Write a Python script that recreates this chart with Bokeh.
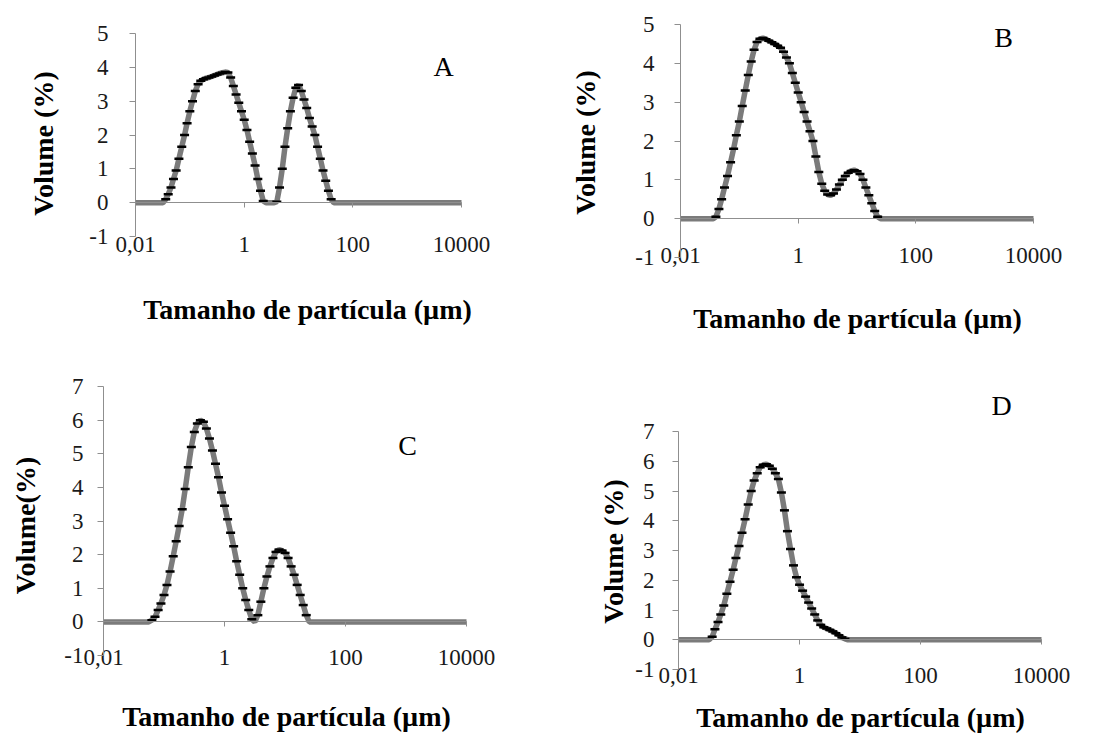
import math
from bokeh.plotting import figure
from bokeh.layouts import column, row
from bokeh.models import Range1d, FixedTicker, Label
from bokeh.embed import file_html
from bokeh.resources import INLINE

# Particle size classes (um)
SIZES = [0.01,
         0.020, 0.022, 0.025, 0.028, 0.032, 0.036, 0.040, 0.045, 0.050, 0.056,
         0.063, 0.071, 0.080, 0.089, 0.100, 0.112, 0.126, 0.142, 0.159, 0.178,
         0.200, 0.224, 0.252, 0.283, 0.317, 0.356, 0.399, 0.448, 0.502, 0.564,
         0.632, 0.710, 0.796, 0.893, 1.002, 1.125, 1.262, 1.416, 1.589, 1.783,
         2.000, 2.244, 2.518, 2.825, 3.170, 3.557, 3.991, 4.477, 5.024, 5.637,
         6.325, 7.096, 7.962, 8.934, 10.024, 11.247, 12.619, 14.159, 15.887, 17.825,
         20.000, 22.440, 25.179, 28.251, 31.698, 35.566, 39.905, 44.774, 50.238, 56.368,
         63.246, 70.963, 79.621, 89.337, 100.237,
         10000]

VOL_A = [0,
         0, 0, 0, 0, 0, 0.1, 0.25, 0.45, 0.7, 0.95,
         1.3, 1.65, 2.0, 2.35, 2.7, 3.0, 3.3, 3.5, 3.6, 3.65,
         3.68, 3.7, 3.73, 3.76, 3.79, 3.82, 3.84, 3.86, 3.85, 3.7,
         3.45, 3.2, 2.95, 2.7, 2.45, 2.15, 1.8, 1.45, 1.1, 0.7,
         0.35, 0.05, 0, 0, 0, 0, 0.03, 0.45, 1.0, 1.65,
         2.2, 2.7, 3.1, 3.4, 3.48, 3.3, 3.05, 2.8, 2.5, 2.25,
         2.0, 1.65, 1.3, 0.95, 0.65, 0.35, 0.1, 0, 0, 0,
         0, 0, 0, 0, 0,
         0]

VOL_B = [0,
         0, 0, 0, 0, 0, 0, 0.05, 0.25, 0.5, 0.8,
         1.1, 1.45, 1.8, 2.15, 2.5, 2.9, 3.3, 3.7, 4.05, 4.35,
         4.55, 4.63, 4.65, 4.62, 4.58, 4.54, 4.5, 4.45, 4.4, 4.3,
         4.15, 4.0, 3.75, 3.5, 3.25, 3.0, 2.75, 2.5, 2.25, 2.0,
         1.6, 1.2, 0.9, 0.72, 0.62, 0.6, 0.65, 0.75, 0.88, 1.0,
         1.1, 1.18, 1.23, 1.25, 1.22, 1.15, 1.0, 0.8, 0.6, 0.4,
         0.2, 0.05, 0, 0, 0, 0, 0, 0, 0, 0,
         0, 0, 0, 0, 0,
         0]

VOL_C = [0,
         0, 0, 0, 0, 0, 0, 0, 0, 0, 0,
         0.05, 0.15, 0.35, 0.55, 0.8, 1.1, 1.5, 1.95, 2.4, 2.85,
         3.35, 3.95, 4.6, 5.2, 5.65, 5.9, 6.0, 5.95, 5.75, 5.45,
         5.1, 4.7, 4.3, 3.85, 3.45, 3.05, 2.65, 2.25, 1.8, 1.4,
         1.0, 0.65, 0.35, 0.08, 0, 0.2, 0.6, 1.0, 1.35, 1.65,
         1.9, 2.08, 2.15, 2.12, 2.05, 1.9, 1.65, 1.4, 1.1, 0.8,
         0.5, 0.2, 0, 0, 0, 0, 0, 0, 0, 0,
         0, 0, 0, 0, 0,
         0]

VOL_D = [0,
         0, 0, 0, 0, 0, 0.1, 0.35, 0.6, 0.85, 1.15,
         1.55, 1.95, 2.35, 2.75, 3.15, 3.6, 4.05, 4.55, 5.0, 5.35,
         5.6, 5.8, 5.88, 5.9, 5.85, 5.75, 5.6, 5.4, 4.95, 4.35,
         3.65, 3.05, 2.5, 2.1, 1.85, 1.65, 1.45, 1.25, 1.05, 0.85,
         0.65, 0.5, 0.42, 0.38, 0.33, 0.28, 0.22, 0.15, 0.08, 0.03,
         0, 0, 0, 0, 0, 0, 0, 0, 0, 0,
         0, 0, 0, 0, 0, 0, 0, 0, 0, 0,
         0, 0, 0, 0, 0,
         0]

X_MIN, X_MAX = 0.01, 10000
X_TICKS = [0.01, 1, 100, 10000]
X_TICK_LABELS = ["0,01", "1", "100", "10000"]
X_TITLE = "Tamanho de partícula (µm)"
Y_TITLES = ["Volume (%)", "Volume (%)", "Volume(%)", "Volume (%)"]
LETTERS = ["A", "B", "C", "D"]
Y_MIN = -1
Y_MAX = [5, 5, 7, 7]
SERIES = [VOL_A, VOL_B, VOL_C, VOL_D]

# Layout in pixels, relative to each panel's own box:
# w,h = panel size; px0/px1 = pixel x of X_MIN/X_MAX; py_top/py_bot = pixel y of y max / y min;
# xs/ys = tick label standoffs; xt/yt/lt = centres of x title, y title and panel letter.
CFG = [
    dict(w=550, h=345, px0=135, px1=461, py_top=33, py_bot=236, xs=29, ys=21,
         xt=(307, 309), yt=(43, 143), lt=(443, 66)),
    dict(w=553, h=345, px0=130, px1=483, py_top=24, py_bot=257, xs=24, ys=20,
         xt=(307, 318), yt=(35, 142), lt=(453, 37)),
    dict(w=550, h=390, px0=103, px1=466, py_top=41, py_bot=310, xs=23, ys=14,
         xt=(286, 371), yt=(25, 180), lt=(407, 100)),
    dict(w=553, h=390, px0=128, px1=491, py_top=86, py_bot=324, xs=23, ys=18,
         xt=(310, 372), yt=(63, 206), lt=(451, 60)),
]

SERIF = "Liberation Serif"
AXIS_GRAY = "#8f8f8f"
TICK_FONT = "23px"
TITLE_FONT = "28px"


def make_panel(vol, ymax, letter, ytitle, c):
    w, h = c["w"], c["h"]
    # extend the ranges so that the whole panel is the plot frame
    lx0, lx1 = math.log10(X_MIN), math.log10(X_MAX)
    ppd = (c["px1"] - c["px0"]) / (lx1 - lx0)
    xr = Range1d(10 ** (lx0 - c["px0"] / ppd), 10 ** (lx1 + (w - c["px1"]) / ppd))
    ppu = (c["py_bot"] - c["py_top"]) / (ymax - Y_MIN)
    yr = Range1d(Y_MIN - (h - c["py_bot"]) / ppu, ymax + c["py_top"] / ppu)

    p = figure(width=w, height=h, x_axis_type="log", x_range=xr, y_range=yr,
               output_backend="svg", toolbar_location=None,
               min_border_left=0, min_border_right=0,
               min_border_top=0, min_border_bottom=0)
    p.outline_line_color = None
    p.grid.visible = False
    p.background_fill_color = "white"
    p.border_fill_color = "white"

    p.line(SIZES, vol, line_color="#7b7b7b", line_width=5.5)
    xs = [s for s, v in zip(SIZES, vol) if v > 0]
    ys = [v for v in vol if v > 0]
    p.scatter(xs, ys, marker="dash", size=9, line_color="black", line_width=2.5)

    xa = p.xaxis[0]
    xa.ticker = FixedTicker(ticks=X_TICKS)
    xa.major_label_overrides = {t: l for t, l in zip(X_TICKS, X_TICK_LABELS)}
    xa.fixed_location = 0
    xa.bounds = (X_MIN, X_MAX)
    xa.major_tick_out = 5
    xa.major_tick_in = 0
    xa.minor_tick_out = 0
    xa.minor_tick_in = 0
    xa.axis_line_color = AXIS_GRAY
    xa.major_tick_line_color = AXIS_GRAY
    xa.major_label_standoff = c["xs"]
    xa.major_label_text_font = SERIF
    xa.major_label_text_font_size = TICK_FONT
    xa.major_label_text_color = "#1a1a1a"

    ya = p.yaxis[0]
    yticks = list(range(Y_MIN, ymax + 1))
    ya.ticker = FixedTicker(ticks=yticks)
    ya.major_label_overrides = {t: str(t) for t in yticks}
    ya.fixed_location = X_MIN
    ya.bounds = (Y_MIN, ymax)
    ya.major_tick_out = 6
    ya.major_tick_in = 0
    ya.minor_tick_out = 0
    ya.minor_tick_in = 0
    ya.axis_line_color = AXIS_GRAY
    ya.major_tick_line_color = AXIS_GRAY
    ya.major_label_standoff = c["ys"]
    ya.major_label_text_font = SERIF
    ya.major_label_text_font_size = TICK_FONT
    ya.major_label_text_color = "#1a1a1a"

    def lab(pos, text, bold=True, angle=0.0):
        p.add_layout(Label(x=pos[0], y=h - pos[1], x_units="screen", y_units="screen",
                           text=text, text_font=SERIF, text_font_size=TITLE_FONT,
                           text_font_style="bold" if bold else "normal",
                           text_align="center", text_baseline="middle",
                           angle=angle, text_color="black"))

    lab(c["xt"], X_TITLE)
    lab(c["yt"], ytitle, angle=math.pi / 2)
    lab(c["lt"], letter, bold=False)
    return p


panels = [make_panel(SERIES[i], Y_MAX[i], LETTERS[i], Y_TITLES[i], CFG[i]) for i in range(4)]
layout = column(row(panels[0], panels[1]), row(panels[2], panels[3]))

open("out.html", "w").write(file_html(layout, INLINE))
